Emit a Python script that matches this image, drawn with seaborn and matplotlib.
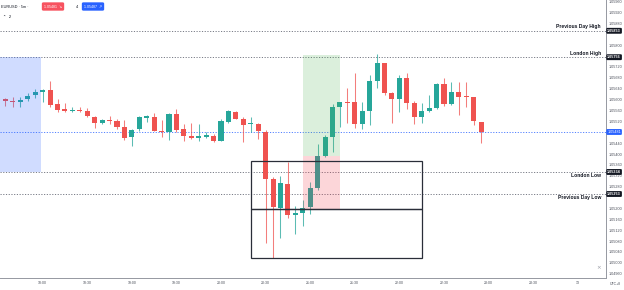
import matplotlib
matplotlib.use("Agg")
import matplotlib.pyplot as plt
import matplotlib.transforms as mtransforms
from matplotlib.patches import Rectangle
import numpy as np
import pandas as pd
import seaborn as sns

# ---------------- data (EURUSD 5m) ----------------
start_time = "2022-12-12 17:35"
opens = [1.05601, 1.05596, 1.05591, 1.05601, 1.05617, 1.05628, 1.05634, 1.05583, 1.05564, 1.05557,
         1.05562, 1.05558, 1.05537, 1.05514, 1.05526, 1.05522, 1.05498, 1.05461, 1.05491, 1.05532,
         1.05535, 1.05485, 1.05482, 1.05548, 1.05491, 1.05466, 1.05458, 1.05462, 1.05467, 1.05448,
         1.05519, 1.05555, 1.05529, 1.05509, 1.05510, 1.05482, 1.05307, 1.05202, 1.05290, 1.05177,
         1.05184, 1.05204, 1.05274, 1.05393, 1.05463, 1.05573, 1.05591, 1.05590, 1.05510, 1.05558,
         1.05670, 1.05733, 1.05623, 1.05602, 1.05680, 1.05588, 1.05537, 1.05558, 1.05570, 1.05657,
         1.05584, 1.05628, 1.05612, 1.05611, 1.05519]
highs = [1.05607, 1.05611, 1.05611, 1.05623, 1.05638, 1.05639, 1.05670, 1.05601, 1.05586, 1.05572,
         1.05574, 1.05569, 1.05540, 1.05527, 1.05540, 1.05527, 1.05525, 1.05491, 1.05540, 1.05543,
         1.05549, 1.05525, 1.05549, 1.05566, 1.05511, 1.05513, 1.05510, 1.05481, 1.05473, 1.05529,
         1.05562, 1.05559, 1.05535, 1.05535, 1.05513, 1.05488, 1.05316, 1.05319, 1.05372, 1.05209,
         1.05231, 1.05296, 1.05436, 1.05470, 1.05584, 1.05592, 1.05641, 1.05697, 1.05590, 1.05690,
         1.05768, 1.05735, 1.05629, 1.05690, 1.05697, 1.05596, 1.05586, 1.05617, 1.05662, 1.05678,
         1.05666, 1.05663, 1.05663, 1.05611, 1.05519]
lows = [1.05577, 1.05572, 1.05572, 1.05596, 1.05607, 1.05590, 1.05572, 1.05555, 1.05554, 1.05554,
        1.05554, 1.05537, 1.05497, 1.05510, 1.05510, 1.05491, 1.05451, 1.05430, 1.05483, 1.05516,
        1.05484, 1.05461, 1.05451, 1.05482, 1.05449, 1.05454, 1.05449, 1.05458, 1.05445, 1.05447,
        1.05515, 1.05527, 1.05445, 1.05482, 1.05454, 1.05072, 1.05016, 1.05090, 1.05163, 1.05106,
        1.05136, 1.05178, 1.05269, 1.05390, 1.05406, 1.05498, 1.05515, 1.05494, 1.05491, 1.05506,
        1.05641, 1.05617, 1.05513, 1.05555, 1.05564, 1.05510, 1.05513, 1.05553, 1.05565, 1.05577,
        1.05580, 1.05543, 1.05574, 1.05506, 1.05439]
closes = [1.05595, 1.05590, 1.05600, 1.05613, 1.05629, 1.05636, 1.05580, 1.05561, 1.05557, 1.05563,
          1.05558, 1.05540, 1.05515, 1.05525, 1.05522, 1.05498, 1.05460, 1.05488, 1.05537, 1.05540,
          1.05484, 1.05482, 1.05548, 1.05488, 1.05466, 1.05458, 1.05466, 1.05469, 1.05447, 1.05521,
          1.05558, 1.05530, 1.05508, 1.05513, 1.05484, 1.05307, 1.05204, 1.05292, 1.05177, 1.05183,
          1.05202, 1.05274, 1.05393, 1.05463, 1.05572, 1.05590, 1.05588, 1.05510, 1.05558, 1.05670,
          1.05733, 1.05623, 1.05601, 1.05680, 1.05588, 1.05537, 1.05558, 1.05568, 1.05657, 1.05584,
          1.05628, 1.05611, 1.05609, 1.05521, 1.05481]

level_names = ["Previous Day High", "London High", "London Low", "Previous Day Low"]
level_values = [1.05853, 1.05756, 1.05334, 1.05253]
level_label_side = ["above", "above", "below", "below"]
last_price = 1.05481
ask_price = 1.05487
spread_text = "4"

london_box = ("2022-12-12 17:25", "2022-12-12 17:59", 1.05756, 1.05334)
position = ("2022-12-12 20:55", "2022-12-12 21:20", 1.05764, 1.05394, 1.05197)  # t0,t1,target,entry,stop
range_box = ("2022-12-12 20:20", "2022-12-12 22:15", 1.05375, 1.05197, 1.05016)

x_tick_times = ["2022-12-12 18:00", "2022-12-12 18:30", "2022-12-12 19:00", "2022-12-12 19:30",
                "2022-12-12 20:00", "2022-12-12 20:30", "2022-12-12 21:00", "2022-12-12 21:30",
                "2022-12-12 22:00", "2022-12-12 22:30", "2022-12-12 23:00", "2022-12-12 23:30",
                "2022-12-13 00:00"]
x_tick_labels = ["18:00", "18:30", "19:00", "19:30", "20:00", "20:30", "21:00", "21:30",
                 "22:00", "22:30", "23:00", "23:30", "13"]
y_ticks = [1.05960, 1.05920, 1.05880, 1.05800, 1.05720, 1.05680, 1.05640, 1.05600, 1.05560,
           1.05520, 1.05440, 1.05400, 1.05360, 1.05320, 1.05280, 1.05200, 1.05160, 1.05120,
           1.05080, 1.05040, 1.05000, 1.04960]

# ---------------- helpers ----------------
t0 = pd.Timestamp(start_time)
step = pd.Timedelta("5min")


def tpos(t):
    return (pd.Timestamp(t) - t0) / step


df = pd.DataFrame({"open": opens, "high": highs, "low": lows, "close": closes})
df["t"] = np.arange(len(df))
df["up"] = df["close"] >= df["open"]

UP = "#26a69a"
DOWN = "#ef5350"
GREY = "#787b86"

sns.set_theme(style="white")
plt.rcParams["font.family"] = ["Liberation Sans", "DejaVu Sans"]

W, H = 624, 290
fig = plt.figure(figsize=(W / 100, H / 100), dpi=100)
ax = fig.add_axes([0, 12 / H, 606 / W, 278 / H])

colors = np.where(df["up"], UP, DOWN)
# wicks
ax.vlines(df["t"], df["low"], df["high"], colors=colors, linewidth=0.75, alpha=0.75, zorder=2)
# bodies
body_bottom = np.minimum(df["open"], df["close"])
body_h = np.maximum(np.abs(df["close"] - df["open"]), 0.000015)
ax.bar(df["t"], body_h, bottom=body_bottom, width=0.68, color=colors, linewidth=0, zorder=3)

# London session box
lx0, lx1 = tpos(london_box[0]), tpos(london_box[1])
ax.add_patch(Rectangle((lx0, london_box[3]), lx1 - lx0, london_box[2] - london_box[3],
                       facecolor="#2962ff", alpha=0.22, linewidth=0, zorder=4))

# long position tool
px0, px1 = tpos(position[0]), tpos(position[1])
ax.add_patch(Rectangle((px0, position[3]), px1 - px0, position[2] - position[3],
                       facecolor="#4caf50", alpha=0.2, linewidth=0, zorder=4))
ax.add_patch(Rectangle((px0, position[4]), px1 - px0, position[3] - position[4],
                       facecolor="#f23645", alpha=0.2, linewidth=0, zorder=4))

# range boxes
rx0, rx1 = tpos(range_box[0]), tpos(range_box[1])
for top, bot in [(range_box[2], range_box[3]), (range_box[3], range_box[4])]:
    ax.add_patch(Rectangle((rx0, bot), rx1 - rx0, top - bot, facecolor="none",
                           edgecolor="#2a2e39", linewidth=0.9, zorder=5))

# horizontal levels
for v in level_values:
    ax.axhline(v, color=GREY, linestyle=(0, (1.2, 1.6)), linewidth=0.7, zorder=1)
ax.axhline(last_price, color="#2962ff", linestyle=(0, (1.2, 1.6)), linewidth=0.7, alpha=0.8, zorder=1)

blend = mtransforms.blended_transform_factory(ax.transAxes, ax.transData)
for name, v, side in zip(level_names, level_values, level_label_side):
    off = 3.0 if side == "above" else -2.6
    ax.annotate(name, xy=(601 / 606, v), xycoords=blend, xytext=(0, off), textcoords="offset points",
                ha="right", va="center", fontsize=3.6, fontweight="bold", color="#131722", zorder=6)
    ax.text(1.002, v, f"{v:.5f}", transform=blend, ha="left", va="center", fontsize=2.7,
            color="white", fontweight="bold", clip_on=False, zorder=7,
            bbox=dict(boxstyle="round,pad=0.25,rounding_size=0.3", fc="#131722", ec="none"))
ax.text(1.002, last_price, f"{last_price:.5f}", transform=blend, ha="left", va="center", fontsize=2.7,
        color="white", clip_on=False, zorder=7,
        bbox=dict(boxstyle="round,pad=0.25,rounding_size=0.3", fc="#2962ff", ec="none"))

# axes
xmin, xmax = -0.74, 80.8
ax.set_xlim(xmin, xmax)
ax.set_ylim(1.049442, 1.0596625)
ax.set_xticks([tpos(t) for t in x_tick_times])
ax.set_xticklabels(x_tick_labels)
ax.yaxis.tick_right()
ax.set_yticks(y_ticks)
ax.set_yticklabels([f"{v:.5f}" for v in y_ticks])
ax.tick_params(axis="y", length=0, pad=1.6, labelsize=2.7, labelcolor="#4a4e59")
ax.tick_params(axis="x", length=0, pad=2.2, labelsize=2.5, labelcolor="#4a4e59")
ax.grid(False)
sns.despine(ax=ax, left=True, top=True, right=False, bottom=False)
for s in ["right", "bottom"]:
    ax.spines[s].set_color("#9598a1")
    ax.spines[s].set_linewidth(0.7)
ax.set_facecolor("white")

# header
fig.text(1 / W, 1 - 6.5 / H, "EURUSD · 5m ·", fontsize=2.8, color="#131722", ha="left", va="center")
fig.text(53 / W, 1 - 6.5 / H, f"{last_price:.5f}  ↘", fontsize=2.6, color="white", ha="center", va="center",
         bbox=dict(boxstyle="round,pad=0.6,rounding_size=0.4", fc="#f7525f", ec="none"))
fig.text(77 / W, 1 - 6.5 / H, spread_text, fontsize=2.8, color="#131722", ha="center", va="center")
fig.text(93 / W, 1 - 6.5 / H, f"{ask_price:.5f}  ↗", fontsize=2.6, color="white", ha="center", va="center",
         bbox=dict(boxstyle="round,pad=0.6,rounding_size=0.4", fc="#2962ff", ec="none"))
fig.text(3 / W, 1 - 17.5 / H, "⌃  2", fontsize=2.8, color="#131722", ha="left", va="center",
         family=["DejaVu Sans"])
fig.text(615 / W, 1 - 284 / H, "UTC+8", fontsize=2.5, color="#4a4e59", ha="center", va="center")
fig.text(599 / W, 1 - 268 / H, "×", fontsize=4.0, color="#9598a1", ha="center", va="center",
         family=["DejaVu Sans"])

fig.savefig("out.png", dpi=100)
